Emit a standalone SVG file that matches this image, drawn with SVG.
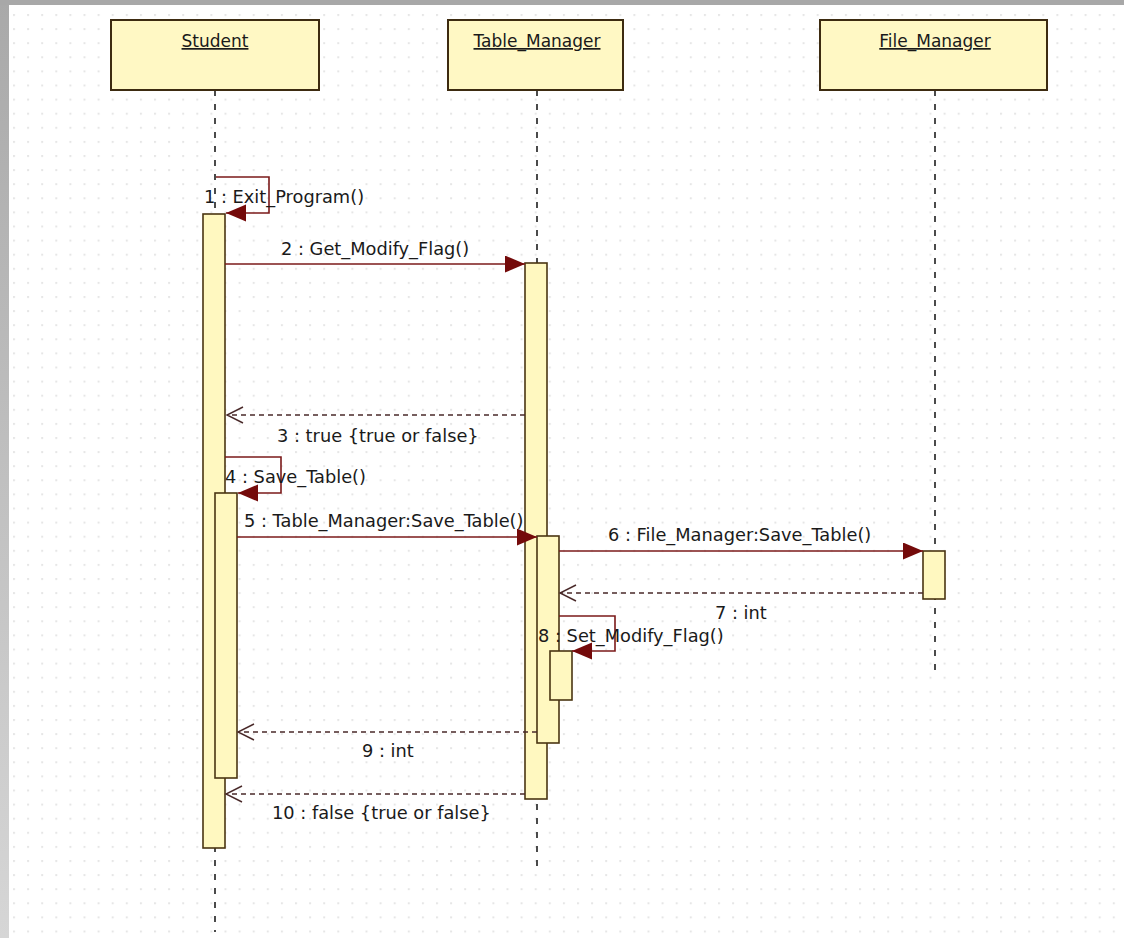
<svg xmlns="http://www.w3.org/2000/svg" width="1124" height="938" viewBox="0 0 1124 938">
<style>
  .hdr { fill: #fff8c4; stroke: #3d2b10; stroke-width: 2; }
  .act { fill: #fff8c0; stroke: #4a3512; stroke-width: 1.6; }
  .life { stroke: #1e1e1e; stroke-width: 1.6; stroke-dasharray: 6 8; fill: none; }
  .msg { stroke: #7b1a1a; stroke-width: 1.6; fill: none; }
  .ret { stroke: #4a2a2a; stroke-width: 1.4; stroke-dasharray: 5 4; fill: none; }
  .txt { font-family: "DejaVu Sans", Verdana, sans-serif; font-size: 17.8px; fill: #1a1a1a; }
  .htxt { font-family: "DejaVu Sans", Verdana, sans-serif; font-size: 17px; fill: #1a1a1a; text-anchor: middle; text-decoration: underline; }
</style>
<defs>
  <pattern id="grid" patternUnits="userSpaceOnUse" x="13" y="14" width="14.1" height="14.1">
    <rect x="0" y="0" width="2" height="2" fill="#e6e6e6"/>
  </pattern>
  <linearGradient id="side" x1="0" y1="0" x2="0" y2="1">
    <stop offset="0" stop-color="#a9a9a9"/>
    <stop offset="1" stop-color="#d6d6d6"/>
  </linearGradient>
  <marker id="fill" markerUnits="userSpaceOnUse" markerWidth="22" markerHeight="20" refX="20" refY="8.5" orient="auto">
    <path d="M0,0 L20,8.5 L0,17 z" fill="#740a0a"/>
  </marker>
  <marker id="open" markerUnits="userSpaceOnUse" markerWidth="20" markerHeight="20" refX="17" refY="9" orient="auto">
    <path d="M1,1 L17,9 L1,17" fill="none" stroke="#4a2a2a" stroke-width="1.4"/>
  </marker>
</defs>

<rect x="0" y="0" width="1124" height="938" fill="#ffffff"/>
<rect x="0" y="0" width="1124" height="938" fill="url(#grid)"/>
<rect x="0" y="0" width="9" height="938" fill="url(#side)"/>
<rect x="0" y="0" width="1124" height="5" fill="#a8a8a8"/>

<g id="student">
  <line class="life" x1="215" y1="90" x2="215" y2="932"/>
  <rect class="hdr" x="111" y="20" width="208" height="70"/>
  <text class="htxt" x="215" y="47">Student</text>
  <rect class="act" x="203" y="214" width="22" height="634"/>
  <rect class="act" x="215" y="493" width="22" height="285"/>
</g>

<g id="table_manager">
  <line class="life" x1="537" y1="90" x2="537" y2="870"/>
  <rect class="hdr" x="448" y="20" width="175" height="70"/>
  <text class="htxt" x="537" y="47">Table_Manager</text>
  <rect class="act" x="525" y="263" width="22" height="536"/>
  <rect class="act" x="537" y="536" width="22" height="207"/>
  <rect class="act" x="550" y="651" width="22" height="49"/>
</g>

<g id="file_manager">
  <line class="life" x1="935" y1="90" x2="935" y2="677"/>
  <rect class="hdr" x="820" y="20" width="227" height="70"/>
  <text class="htxt" x="935" y="47">File_Manager</text>
  <rect class="act" x="923" y="551" width="22" height="48"/>
</g>

<g id="connectors">
  <polyline class="msg" points="216,177 269,177 269,213 226,213" marker-end="url(#fill)"/>
  <line class="msg" x1="225" y1="264" x2="525" y2="264" marker-end="url(#fill)"/>
  <line class="ret" x1="525" y1="415" x2="227" y2="415" marker-end="url(#open)"/>
  <polyline class="msg" points="225,457 281,457 281,493 238,493" marker-end="url(#fill)"/>
  <line class="msg" x1="237" y1="537" x2="537" y2="537" marker-end="url(#fill)"/>
  <line class="msg" x1="559" y1="551" x2="923" y2="551" marker-end="url(#fill)"/>
  <line class="ret" x1="923" y1="593" x2="560" y2="593" marker-end="url(#open)"/>
  <polyline class="msg" points="559,616 615,616 615,651 572,651" marker-end="url(#fill)"/>
  <line class="ret" x1="537" y1="732" x2="238" y2="732" marker-end="url(#open)"/>
  <line class="ret" x1="525" y1="794" x2="226" y2="794" marker-end="url(#open)"/>
</g>

<g id="labels">
  <text class="txt" x="204" y="203">1 : Exit_Program()</text>
  <text class="txt" x="281" y="255">2 : Get_Modify_Flag()</text>
  <text class="txt" x="277" y="442">3 : true {true or false}</text>
  <text class="txt" x="225" y="483">4 : Save_Table()</text>
  <text class="txt" x="244" y="527">5 : Table_Manager:Save_Table()</text>
  <text class="txt" x="608" y="541">6 : File_Manager:Save_Table()</text>
  <text class="txt" x="715" y="619">7 : int</text>
  <text class="txt" x="538" y="642">8 : Set_Modify_Flag()</text>
  <text class="txt" x="362" y="757">9 : int</text>
  <text class="txt" x="272" y="819">10 : false {true or false}</text>
</g>
</svg>
